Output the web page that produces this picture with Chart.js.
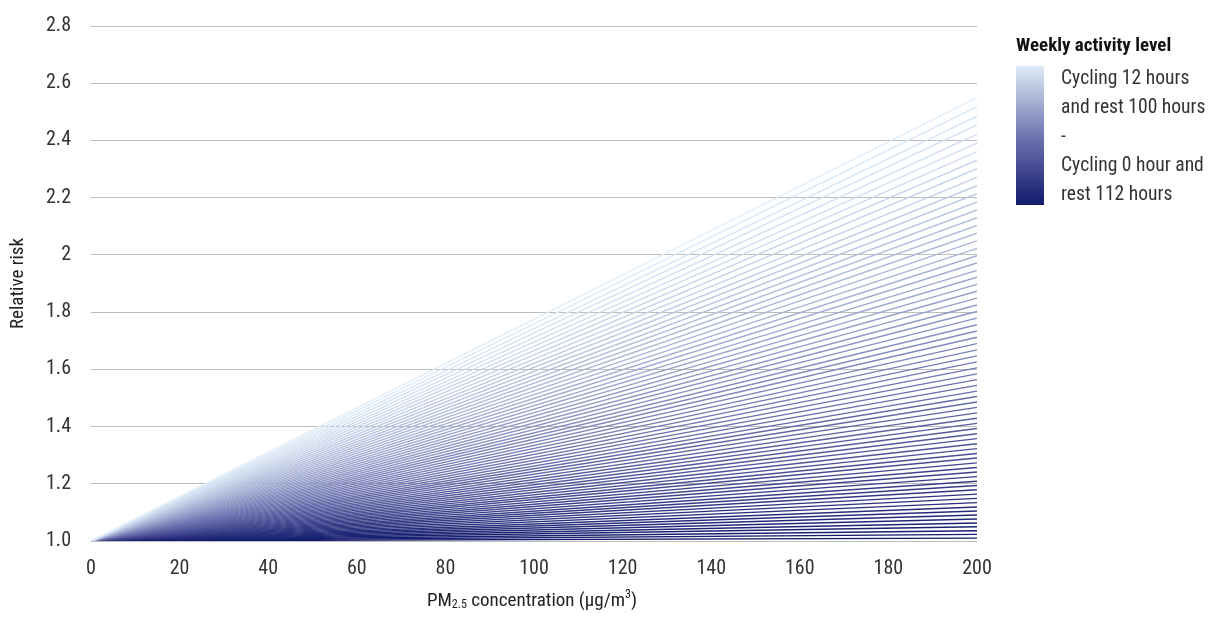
<!DOCTYPE html>
<html>
<head>
<meta charset="utf-8">
<script src="https://cdn.jsdelivr.net/npm/chart.js@4"></script>
<style>
  html, body { margin:0; padding:0; background:#fff; }
  body { width:1208px; height:620px; position:relative; overflow:hidden;
         font-family: "Roboto Condensed", "Liberation Sans Narrow", "DejaVu Sans Condensed", Roboto, sans-serif; color:#222; }
  #wrap { position:absolute; left:0; top:0; width:1208px; height:620px; }
  #xtitle { position:absolute; left:89px; width:886px; top:582px; text-align:center; font-size:19px; line-height:24px; color:#222; }
  #xtitle sub, #xtitle sup { font-size:12px; }
  #xtitle sub { vertical-align:-2px; }
  #xtitle sup { vertical-align:8px; }
  #legend .ttl { position:absolute; left:1016px; top:34px; font-weight:bold; font-size:19px; line-height:22px; color:#111; white-space:nowrap; }
  #legend .bar { position:absolute; left:1016px; top:66px; width:28px; height:139px;
                 background:linear-gradient(to bottom, rgb(222,236,248), rgb(112,118,178) 50%, rgb(18,26,108)); }
  #legend .txt { position:absolute; left:1061px; top:63px; width:150px; font-size:19.6px; line-height:29px; color:#333; white-space:nowrap; }
</style>
</head>
<body>
<div id="wrap"><canvas id="c" width="1208" height="620"></canvas></div>
<div id="xtitle">PM<sub>2.5</sub> concentration (µg/m<sup>3</sup>)</div>
<div id="legend">
  <div class="ttl">Weekly activity level</div>
  <div class="bar"></div>
  <div class="txt">Cycling 12 hours<br>and rest 100 hours<br>-<br>Cycling 0 hour and<br>rest 112 hours</div>
</div>
<script>
// PM2.5 concentration range (x) for each line
const xStart = 0;
const xEnd = 200;
const yStart = 1.0;
// Relative risk at 200 µg/m3, from Cycling 0 hour (first) to Cycling 12 hours (last), 10-minute steps
const endRisk = [
  1.010, 1.023, 1.036, 1.050, 1.063, 1.077, 1.091, 1.105, 1.119, 1.134,
  1.149, 1.164, 1.179, 1.194, 1.209, 1.225, 1.241, 1.257, 1.273, 1.290,
  1.306, 1.323, 1.340, 1.358, 1.375, 1.393, 1.411, 1.429, 1.448, 1.467,
  1.486, 1.505, 1.524, 1.544, 1.564, 1.584, 1.605, 1.626, 1.647, 1.668,
  1.690, 1.712, 1.734, 1.756, 1.779, 1.802, 1.825, 1.849, 1.873, 1.897,
  1.922, 1.946, 1.972, 1.997, 2.023, 2.049, 2.076, 2.103, 2.130, 2.157,
  2.185, 2.214, 2.242, 2.271, 2.301, 2.331, 2.361, 2.391, 2.422, 2.454,
  2.485, 2.518, 2.550
];
const xTicks = [0, 20, 40, 60, 80, 100, 120, 140, 160, 180, 200];
const yTicks = [1.0, 1.2, 1.4, 1.6, 1.8, 2.0, 2.2, 2.4, 2.6, 2.8];

const FONT = '"Roboto Condensed", "Liberation Sans Narrow", "DejaVu Sans Condensed", Roboto, sans-serif';

// colour ramp: dark navy -> mid blue-violet -> pale blue
const stops = [[18,26,108],[112,118,178],[222,236,248]];
function ramp(t){
  let a, b, u;
  if (t < 0.5) { a = stops[0]; b = stops[1]; u = t/0.5; }
  else { a = stops[1]; b = stops[2]; u = (t-0.5)/0.5; }
  const c = a.map((v,i)=>Math.round(v + (b[i]-v)*u));
  return `rgb(${c[0]},${c[1]},${c[2]})`;
}

const n = endRisk.length;
const datasets = [];
// draw light (high) lines first, dark (low) lines on top
for (let k = n-1; k >= 0; k--) {
  const col = ramp(k/(n-1));
  datasets.push({
    data: [{x:xStart, y:yStart}, {x:xEnd, y:endRisk[k]}],
    borderColor: col, backgroundColor: col,
    borderWidth: 1.4, pointRadius: 0, fill: false, tension: 0
  });
}

new Chart(document.getElementById('c'), {
  type: 'line',
  data: { datasets },
  options: {
    responsive: false, animation: false,
    layout: { padding: { left: 7, right: 231, top: 26, bottom: 23 } },
    plugins: { legend: { display:false }, tooltip: { enabled:false } },
    scales: {
      x: {
        type: 'linear', min: 0, max: 200,
        afterBuildTicks: (s) => { s.ticks = xTicks.map(v=>({value:v})); },
        afterFit: (s) => { s.paddingLeft = 0; s.paddingRight = 0; },
        grid: { display:false, drawTicks:false },
        border: { display:false },
        ticks: { color:'#333', font:{ family:FONT, size:20 }, padding: 16, maxRotation:0 }
      },
      y: {
        type: 'linear', min: 1.0, max: 2.8,
        afterBuildTicks: (s) => { s.ticks = yTicks.map(v=>({value:v})); },
        afterFit: (s) => { s.width = 84; s.paddingTop = 0; s.paddingBottom = 0; },
        grid: { color:'#bdbdbd', lineWidth:1, drawTicks:false },
        border: { display:false },
        ticks: { color:'#333', font:{ family:FONT, size:20 }, padding: 20,
                 callback: (v) => Math.abs(v-1) < 1e-9 ? '1.0' : String(Math.round(v*10)/10) },
        title: { display:true, text:'Relative risk', color:'#222', font:{ family:FONT, size:19 }, padding:{top:0,bottom:0} }
      }
    }
  }
});
</script>
</body>
</html>
